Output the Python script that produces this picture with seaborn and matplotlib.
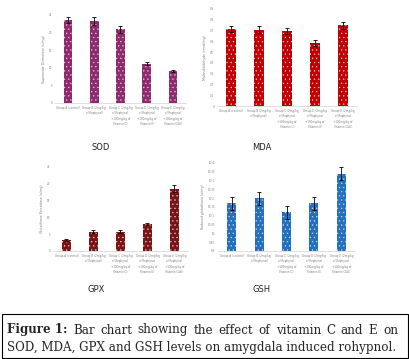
import matplotlib
matplotlib.use("Agg")
import matplotlib.pyplot as plt
from matplotlib.patches import Rectangle
import seaborn as sns
import numpy as np
import pandas as pd

sns.set_style("white")
plt.rcParams["font.family"] = ["DejaVu Sans"]
plt.rcParams["hatch.linewidth"] = 0.4

groups = [
    "Group A (control)",
    "Group B (2mg/kg\nof Rophynol)",
    "Group C (2mg/kg\nof Rophynol\n+100mg/kg of\nVitamin C)",
    "Group D (2mg/kg\nof Rophynol\n+100mg/kg of\nVitamin E)",
    "Group E (2mg/kg\nof Rophynol\n+100mg/kg of\nVitamin C&E)",
]

sod = [23.6, 23.4, 20.9, 11.2, 9.1]
sod_err = [0.9, 1.1, 1.0, 0.4, 0.3]
mda = [0.714, 0.708, 0.696, 0.587, 0.748]
mda_err = [0.03, 0.03, 0.03, 0.03, 0.03]
gpx = [3.2, 5.8, 5.8, 8.0, 18.5]
gpx_err = [0.3, 0.4, 0.4, 0.3, 1.0]
gsh = [10.17, 10.20, 10.12, 10.17, 10.34]
gsh_err = [0.037, 0.037, 0.037, 0.037, 0.037]

caption_bold = "Figure 1:"
caption_line1 = "Bar chart showing the effect of vitamin C and E on"
caption_line2 = "SOD, MDA, GPX and GSH levels on amygdala induced rohypnol."

W, H = 410, 359
fig = plt.figure(figsize=(W / 100, H / 100), dpi=100)


def px_axes(left, right, top, bottom):
    return fig.add_axes([left / W, 1 - bottom / H, (right - left) / W, (bottom - top) / H])


panels = [
    dict(vals=sod, err=sod_err, color="#8E2A6E", box=(55, 186, 15, 103),
         ylim=(0, 25), ticks=np.arange(0, 26, 5),
         ylabel="Superoxide Dismutase (u/mg)", title="SOD", tpos=(101, 147)),
    dict(vals=mda, err=mda_err, color="#C00000", box=(217, 357, 9, 106),
         ylim=(0, 0.9), ticks=np.round(np.arange(0, 0.91, 0.1), 2),
         ylabel="Malondialdehyde (nmol/mg)", title="MDA", tpos=(262, 147)),
    dict(vals=gpx, err=gpx_err, color="#7A1414", box=(53, 188, 167, 251),
         ylim=(0, 25), ticks=np.arange(0, 26, 5),
         ylabel="Glutathione Peroxidase (u/mg)", title="GPX", tpos=(96, 290)),
    dict(vals=gsh, err=gsh_err, color="#1F72C0", box=(218, 355, 163, 251),
         ylim=(9.9, 10.4), ticks=np.round(np.arange(9.9, 10.41, 0.05), 2),
         ylabel="Reduced glutathione (u/mg)", title="GSH", tpos=(262, 290)),
]

for p in panels:
    ax = px_axes(*p["box"])
    df = pd.DataFrame({"group": groups, "value": p["vals"]})
    sns.barplot(data=df, x="group", y="value", color=p["color"], width=0.33,
                saturation=1, ax=ax)
    for bar in ax.patches:
        bar.set_edgecolor("#e8c8d8")
        bar.set_linewidth(0)
        bar.set_hatch("....")
    ax.errorbar(range(len(groups)), p["vals"], yerr=p["err"], fmt="none",
                ecolor="black", elinewidth=0.6, capsize=1.2, capthick=0.6)
    ax.set_xlim(-0.5, 4.5)
    ax.set_ylim(*p["ylim"])
    ax.set_yticks(p["ticks"])
    ax.set_yticklabels(["{:g}".format(t) for t in p["ticks"]])
    ax.tick_params(axis="both", length=0, labelsize=2.0, colors="#808080", pad=2)
    for lbl in ax.get_xticklabels():
        lbl.set_verticalalignment("top")
        lbl.set_linespacing(1.5)
    ax.set_xlabel("")
    ax.set_ylabel(p["ylabel"], fontsize=2.3, color="#808080", labelpad=2)
    for s in ["top", "right", "left"]:
        ax.spines[s].set_visible(False)
    ax.spines["bottom"].set_color("#d9d9d9")
    ax.spines["bottom"].set_linewidth(0.6)
    fig.text(p["tpos"][0] / W, 1 - p["tpos"][1] / H, p["title"], fontsize=6,
             ha="center", va="center", color="#222222")

# caption box
fig.patches.append(Rectangle((2 / W, 1 / H), 406 / W, 44 / H, transform=fig.transFigure,
                             fill=False, edgecolor="black", linewidth=0.8))
renderer = fig.canvas.get_renderer()

# size line 2 so that it spans ~388 px
t2 = fig.text(7 / W, 1 - 348 / H, caption_line2, fontsize=7.2,
              family="DejaVu Serif", va="center", ha="left")
w2 = t2.get_window_extent(renderer).width
cap_fs = 7.2 * 388 / w2
t2.set_fontsize(cap_fs)

# justified first line: bold label + words spread from x=7 to x=398
words = [(caption_bold, "bold")] + [(w, "normal") for w in caption_line1.split()]
texts = []
total = 0
for w, weight in words:
    t = fig.text(0, 1 - 330 / H, w, fontsize=cap_fs, fontweight=weight,
                 family="DejaVu Serif", va="center", ha="left")
    bw = t.get_window_extent(renderer).width
    texts.append((t, bw))
    total += bw
gap = (391 - total) / (len(words) - 1)
x = 7
for t, bw in texts:
    t.set_x(x / W)
    x += bw + gap

fig.savefig("out.png", dpi=100)
